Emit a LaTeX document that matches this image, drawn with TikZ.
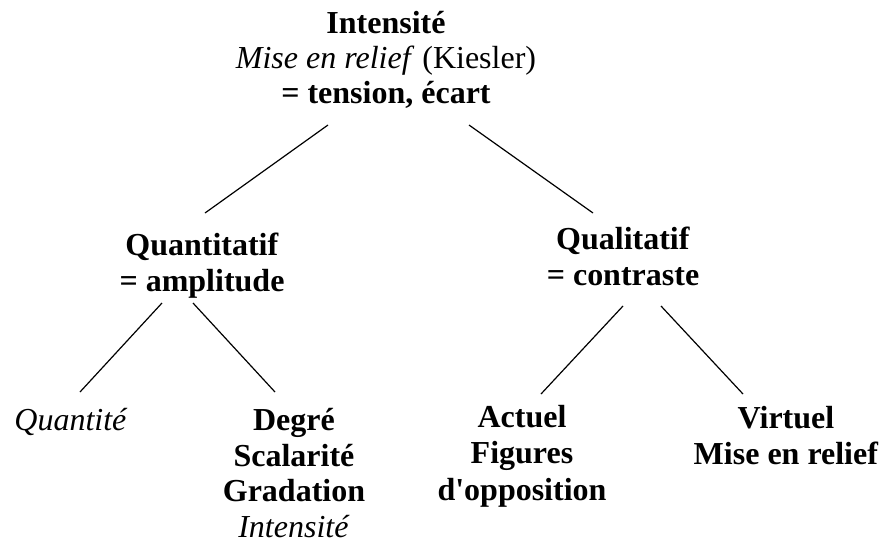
\documentclass[tikz,border=0pt]{standalone}
\usepackage{fontspec}
\setmainfont{Liberation Serif}[Ligatures=TeXOff]
\newcommand{\firstline}{\rule{0pt}{25pt}}
\begin{document}
\begin{tikzpicture}[x=1pt,y=-1pt,
  lbl/.style={align=center,inner sep=0pt,anchor=north,font=\fontsize{32}{36.4}\selectfont},
  toplbl/.style={lbl,font=\fontsize{32}{35}\selectfont},
  deglbl/.style={lbl,font=\fontsize{32}{35.8}\selectfont},
  edge/.style={line width=1.2pt}]
\useasboundingbox (0,0) rectangle (884,544);
\node[toplbl] (top) at (386,8) {\firstline\textbf{Intensité}\\\textit{Mise en relief} (Kiesler)\\\textbf{= tension, écart}};
\node[lbl] (quant) at (202,230) {\firstline\textbf{Quantitatif}\\\textbf{= amplitude}};
\node[lbl] (qual) at (623,224) {\firstline\textbf{Qualitatif}\\\textbf{= contraste}};
\node[lbl] (qte) at (71,405) {\firstline\textit{Quantité}};
\node[deglbl] (deg) at (294,405) {\firstline\textbf{Degré}\\\textbf{Scalarité}\\\textbf{Gradation}\\\textit{Intensité}};
\node[lbl] (act) at (522,402) {\firstline\textbf{Actuel}\\\textbf{Figures}\\\textbf{d'opposition}};
\node[lbl] (vir) at (786,403) {\firstline\textbf{Virtuel}\\\textbf{Mise en relief}};
\coordinate (a1) at (328,125); \coordinate (a2) at (205,213);
\coordinate (b1) at (469,125); \coordinate (b2) at (593,213);
\coordinate (c1) at (162,303); \coordinate (c2) at (80,392);
\coordinate (d1) at (193,303); \coordinate (d2) at (275,392);
\coordinate (e1) at (623,306); \coordinate (e2) at (541,394);
\coordinate (f1) at (661,306); \coordinate (f2) at (743,394);
\draw[edge] (a1) -- (a2);
\draw[edge] (b1) -- (b2);
\draw[edge] (c1) -- (c2);
\draw[edge] (d1) -- (d2);
\draw[edge] (e1) -- (e2);
\draw[edge] (f1) -- (f2);
\end{tikzpicture}
\end{document}
